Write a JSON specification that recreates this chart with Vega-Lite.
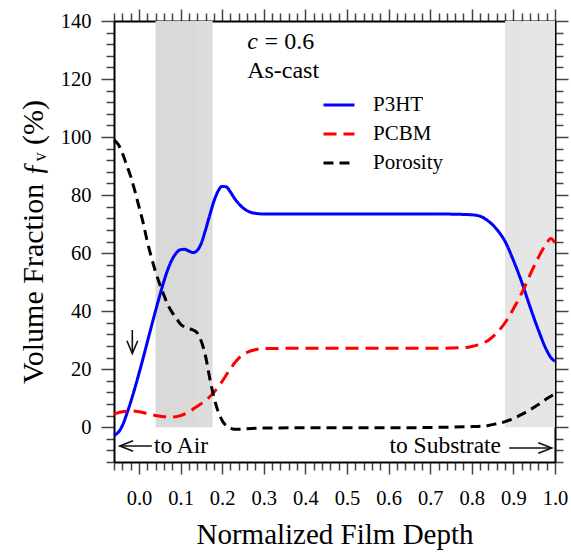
{
  "$schema": "https://vega.github.io/schema/vega-lite/v6.json",
  "width": 441,
  "height": 441,
  "autosize": "none",
  "padding": {"left": 114, "top": 21, "right": 16, "bottom": 91},
  "config": {
    "view": {"stroke": null},
    "font": "Liberation Serif",
    "text": {"font": "Liberation Serif"},
    "legend": {"labelFont": "Liberation Serif", "labelColor": "#000000"},
    "axis": {
      "domainColor": "#000000",
      "domainWidth": 2,
      "tickColor": "#444444",
      "tickWidth": 1.5,
      "grid": false,
      "labelFont": "Liberation Serif",
      "labelColor": "#000000",
      "labelFontSize": 20.5,
      "titleFont": "Liberation Serif",
      "titleFontWeight": "normal",
      "titleColor": "#000000",
      "titleFontSize": 29
    }
  },
  "datasets": {
    "series": [
      {"x": -0.06, "y": -2.8, "s": "P3HT"}, {"x": -0.05, "y": -1.8, "s": "P3HT"}, {"x": -0.04, "y": 0.5, "s": "P3HT"},
      {"x": -0.03, "y": 4.3, "s": "P3HT"}, {"x": -0.02, "y": 8.6, "s": "P3HT"}, {"x": -0.01, "y": 13.4, "s": "P3HT"},
      {"x": 0.0, "y": 18.5, "s": "P3HT"}, {"x": 0.01, "y": 23.8, "s": "P3HT"}, {"x": 0.02, "y": 29.3, "s": "P3HT"},
      {"x": 0.03, "y": 34.8, "s": "P3HT"}, {"x": 0.04, "y": 40.2, "s": "P3HT"}, {"x": 0.05, "y": 45.4, "s": "P3HT"},
      {"x": 0.06, "y": 50.3, "s": "P3HT"}, {"x": 0.07, "y": 54.6, "s": "P3HT"}, {"x": 0.08, "y": 57.9, "s": "P3HT"},
      {"x": 0.09, "y": 60.1, "s": "P3HT"}, {"x": 0.10, "y": 61.2, "s": "P3HT"}, {"x": 0.11, "y": 61.3, "s": "P3HT"},
      {"x": 0.12, "y": 60.7, "s": "P3HT"}, {"x": 0.13, "y": 60.2, "s": "P3HT"}, {"x": 0.14, "y": 60.9, "s": "P3HT"},
      {"x": 0.15, "y": 63.5, "s": "P3HT"}, {"x": 0.16, "y": 68.0, "s": "P3HT"}, {"x": 0.17, "y": 73.0, "s": "P3HT"},
      {"x": 0.18, "y": 77.8, "s": "P3HT"}, {"x": 0.19, "y": 81.3, "s": "P3HT"}, {"x": 0.20, "y": 83.0, "s": "P3HT"},
      {"x": 0.21, "y": 82.8, "s": "P3HT"}, {"x": 0.22, "y": 81.0, "s": "P3HT"}, {"x": 0.23, "y": 78.8, "s": "P3HT"},
      {"x": 0.24, "y": 77.0, "s": "P3HT"}, {"x": 0.25, "y": 75.6, "s": "P3HT"}, {"x": 0.26, "y": 74.6, "s": "P3HT"},
      {"x": 0.27, "y": 74.0, "s": "P3HT"}, {"x": 0.28, "y": 73.7, "s": "P3HT"}, {"x": 0.30, "y": 73.5, "s": "P3HT"},
      {"x": 0.40, "y": 73.5, "s": "P3HT"}, {"x": 0.50, "y": 73.5, "s": "P3HT"}, {"x": 0.60, "y": 73.5, "s": "P3HT"},
      {"x": 0.70, "y": 73.5, "s": "P3HT"}, {"x": 0.76, "y": 73.4, "s": "P3HT"}, {"x": 0.80, "y": 73.2, "s": "P3HT"},
      {"x": 0.82, "y": 72.7, "s": "P3HT"}, {"x": 0.84, "y": 71.0, "s": "P3HT"}, {"x": 0.86, "y": 68.2, "s": "P3HT"},
      {"x": 0.88, "y": 64.0, "s": "P3HT"}, {"x": 0.90, "y": 57.5, "s": "P3HT"}, {"x": 0.92, "y": 50.0, "s": "P3HT"},
      {"x": 0.94, "y": 41.5, "s": "P3HT"}, {"x": 0.96, "y": 33.5, "s": "P3HT"}, {"x": 0.98, "y": 26.5, "s": "P3HT"},
      {"x": 0.99, "y": 24.0, "s": "P3HT"}, {"x": 1.0, "y": 22.7, "s": "P3HT"},

      {"x": -0.06, "y": 4.5, "s": "PCBM"}, {"x": -0.04, "y": 5.3, "s": "PCBM"}, {"x": -0.02, "y": 5.6, "s": "PCBM"},
      {"x": 0.0, "y": 5.3, "s": "PCBM"}, {"x": 0.02, "y": 4.7, "s": "PCBM"}, {"x": 0.04, "y": 4.0, "s": "PCBM"},
      {"x": 0.06, "y": 3.6, "s": "PCBM"}, {"x": 0.08, "y": 3.5, "s": "PCBM"}, {"x": 0.10, "y": 4.0, "s": "PCBM"},
      {"x": 0.12, "y": 5.3, "s": "PCBM"}, {"x": 0.14, "y": 7.2, "s": "PCBM"}, {"x": 0.16, "y": 9.2, "s": "PCBM"},
      {"x": 0.18, "y": 12.0, "s": "PCBM"}, {"x": 0.20, "y": 15.8, "s": "PCBM"}, {"x": 0.22, "y": 20.2, "s": "PCBM"},
      {"x": 0.24, "y": 23.8, "s": "PCBM"}, {"x": 0.26, "y": 25.8, "s": "PCBM"}, {"x": 0.28, "y": 26.7, "s": "PCBM"},
      {"x": 0.30, "y": 27.1, "s": "PCBM"}, {"x": 0.40, "y": 27.2, "s": "PCBM"}, {"x": 0.50, "y": 27.2, "s": "PCBM"},
      {"x": 0.60, "y": 27.2, "s": "PCBM"}, {"x": 0.70, "y": 27.2, "s": "PCBM"}, {"x": 0.78, "y": 27.4, "s": "PCBM"},
      {"x": 0.80, "y": 27.8, "s": "PCBM"}, {"x": 0.82, "y": 28.6, "s": "PCBM"}, {"x": 0.84, "y": 30.0, "s": "PCBM"},
      {"x": 0.86, "y": 32.5, "s": "PCBM"}, {"x": 0.88, "y": 36.0, "s": "PCBM"}, {"x": 0.90, "y": 40.8, "s": "PCBM"},
      {"x": 0.92, "y": 46.2, "s": "PCBM"}, {"x": 0.94, "y": 52.5, "s": "PCBM"}, {"x": 0.96, "y": 58.5, "s": "PCBM"},
      {"x": 0.98, "y": 63.5, "s": "PCBM"}, {"x": 0.99, "y": 65.0, "s": "PCBM"}, {"x": 1.0, "y": 63.5, "s": "PCBM"},

      {"x": -0.06, "y": 99.0, "s": "Porosity"}, {"x": -0.05, "y": 97.5, "s": "Porosity"}, {"x": -0.04, "y": 94.5, "s": "Porosity"},
      {"x": -0.03, "y": 90.5, "s": "Porosity"}, {"x": -0.02, "y": 86.5, "s": "Porosity"}, {"x": -0.01, "y": 81.5, "s": "Porosity"},
      {"x": 0.0, "y": 76.0, "s": "Porosity"}, {"x": 0.01, "y": 70.5, "s": "Porosity"}, {"x": 0.02, "y": 64.0, "s": "Porosity"},
      {"x": 0.03, "y": 58.5, "s": "Porosity"}, {"x": 0.04, "y": 53.5, "s": "Porosity"}, {"x": 0.05, "y": 49.3, "s": "Porosity"},
      {"x": 0.06, "y": 45.5, "s": "Porosity"}, {"x": 0.07, "y": 42.0, "s": "Porosity"}, {"x": 0.08, "y": 39.5, "s": "Porosity"},
      {"x": 0.09, "y": 37.5, "s": "Porosity"}, {"x": 0.10, "y": 35.5, "s": "Porosity"}, {"x": 0.11, "y": 34.5, "s": "Porosity"},
      {"x": 0.12, "y": 34.0, "s": "Porosity"}, {"x": 0.13, "y": 33.5, "s": "Porosity"}, {"x": 0.14, "y": 32.5, "s": "Porosity"},
      {"x": 0.15, "y": 29.5, "s": "Porosity"}, {"x": 0.16, "y": 24.5, "s": "Porosity"}, {"x": 0.17, "y": 17.0, "s": "Porosity"},
      {"x": 0.18, "y": 10.5, "s": "Porosity"}, {"x": 0.19, "y": 5.5, "s": "Porosity"}, {"x": 0.20, "y": 2.3, "s": "Porosity"},
      {"x": 0.21, "y": 0.4, "s": "Porosity"}, {"x": 0.22, "y": -0.4, "s": "Porosity"}, {"x": 0.23, "y": -0.7, "s": "Porosity"},
      {"x": 0.24, "y": -0.7, "s": "Porosity"}, {"x": 0.26, "y": -0.5, "s": "Porosity"}, {"x": 0.30, "y": -0.3, "s": "Porosity"},
      {"x": 0.40, "y": -0.2, "s": "Porosity"}, {"x": 0.50, "y": -0.2, "s": "Porosity"}, {"x": 0.60, "y": -0.2, "s": "Porosity"},
      {"x": 0.70, "y": -0.1, "s": "Porosity"}, {"x": 0.80, "y": 0.2, "s": "Porosity"}, {"x": 0.84, "y": 0.6, "s": "Porosity"},
      {"x": 0.86, "y": 1.2, "s": "Porosity"}, {"x": 0.88, "y": 1.9, "s": "Porosity"}, {"x": 0.90, "y": 3.0, "s": "Porosity"},
      {"x": 0.92, "y": 4.4, "s": "Porosity"}, {"x": 0.94, "y": 6.0, "s": "Porosity"}, {"x": 0.96, "y": 7.8, "s": "Porosity"},
      {"x": 0.98, "y": 9.8, "s": "Porosity"}, {"x": 1.0, "y": 11.5, "s": "Porosity"}
    ],
    "shade": [
      {"x1": 0.04, "x2": 0.137, "z": "a"},
      {"x1": 0.137, "x2": 0.177, "z": "b"},
      {"x1": 0.88, "x2": 0.92, "z": "c"},
      {"x1": 0.92, "x2": 1.0, "z": "d"}
    ],
    "arrows": [
      {"g": "air_shaft", "o": 1, "x": -0.046, "y": -6.5},
      {"g": "air_shaft", "o": 2, "x": 0.031, "y": -6.5},
      {"g": "air_head", "o": 1, "x": -0.014, "y": -4.7},
      {"g": "air_head", "o": 2, "x": -0.046, "y": -6.5},
      {"g": "air_head", "o": 3, "x": -0.014, "y": -8.3},
      {"g": "sub_shaft", "o": 1, "x": 0.89, "y": -7.2},
      {"g": "sub_shaft", "o": 2, "x": 0.992, "y": -7.2},
      {"g": "sub_head", "o": 1, "x": 0.960, "y": -5.4},
      {"g": "sub_head", "o": 2, "x": 0.992, "y": -7.2},
      {"g": "sub_head", "o": 3, "x": 0.960, "y": -9.0},
      {"g": "down_shaft", "o": 1, "x": -0.016, "y": 33.5},
      {"g": "down_shaft", "o": 2, "x": -0.016, "y": 25.4},
      {"g": "down_head", "o": 1, "x": -0.029, "y": 29.8},
      {"g": "down_head", "o": 2, "x": -0.016, "y": 25.4},
      {"g": "down_head", "o": 3, "x": -0.003, "y": 29.8}
    ],
    "italic": [
      {"t": "c", "x": 0.26, "y": 130.2}
    ],
    "plain": [
      {"t": "= 0.6", "x": 0.302, "y": 130.2},
      {"t": "As-cast", "x": 0.26, "y": 120.2}
    ],
    "notes": [
      {"t": "to Air", "x": 0.036, "y": -6.5},
      {"t": "to Substrate", "x": 0.602, "y": -6.5}
    ]
  },
  "layer": [
    {
      "data": {"name": "shade"},
      "mark": {"type": "rect"},
      "encoding": {
        "x": {"field": "x1", "type": "quantitative", "scale": {"domain": [-0.06, 1.0], "nice": false, "zero": false}, "axis": null},
        "x2": {"field": "x2"},
        "y": {"datum": 0, "type": "quantitative", "scale": {"domain": [-12, 140], "nice": false, "zero": false}, "axis": null},
        "y2": {"datum": 140},
        "fill": {"field": "z", "type": "nominal", "scale": {"domain": ["a", "b", "c", "d"], "range": ["#d9d9d9", "#dcdcdc", "#e3e3e3", "#e6e6e6"]}, "legend": null}
      }
    },
    {
      "data": {"name": "series"},
      "mark": {"type": "line", "strokeWidth": 3, "interpolate": "monotone"},
      "encoding": {
        "x": {
          "field": "x", "type": "quantitative",
          "scale": {"domain": [-0.06, 1.0], "nice": false, "zero": false},
          "axis": {
            "orient": "bottom",
            "title": "Normalized Film Depth",
            "titlePadding": 12,
            "values": [-0.06,-0.04,-0.02,0,0.02,0.04,0.06,0.08,0.1,0.12,0.14,0.16,0.18,0.2,0.22,0.24,0.26,0.28,0.3,0.32,0.34,0.36,0.38,0.4,0.42,0.44,0.46,0.48,0.5,0.52,0.54,0.56,0.58,0.6,0.62,0.64,0.66,0.68,0.7,0.72,0.74,0.76,0.78,0.8,0.82,0.84,0.86,0.88,0.9,0.92,0.94,0.96,0.98,1],
            "labelExpr": "abs(datum.value*10 - round(datum.value*10)) < 0.001 ? format(datum.value, '.1f') : ''",
            "tickSize": {"condition": {"test": "abs(datum.value*10 - round(datum.value*10)) < 0.001", "value": 12}, "value": 8},
            "labelPadding": 14,
            "labelOverlap": false,
            "labelFlush": false
          }
        },
        "y": {
          "field": "y", "type": "quantitative",
          "scale": {"domain": [-12, 140], "nice": false, "zero": false},
          "axis": {
            "orient": "left",
            "title": "Volume Fraction ƒᵥ (%)",
            "titleFontSize": 30,
            "titlePadding": 12,
            "values": [-12,-8,-4,0,4,8,12,16,20,24,28,32,36,40,44,48,52,56,60,64,68,72,76,80,84,88,92,96,100,104,108,112,116,120,124,128,132,136,140],
            "labelExpr": "(datum.value % 20 === 0 && datum.value >= 0) ? datum.value : ''",
            "tickSize": {"condition": {"test": "datum.value % 20 === 0", "value": 13}, "value": 8},
            "labelPadding": 10,
            "labelOverlap": false,
            "labelFlush": false
          }
        },
        "color": {
          "field": "s", "type": "nominal",
          "scale": {"domain": ["P3HT", "PCBM", "Porosity"], "range": ["#0000ff", "#ff0000", "#000000"]},
          "legend": {"orient": "none", "legendX": 208, "legendY": 67, "title": null, "symbolType": "stroke", "symbolSize": 961, "symbolStrokeWidth": 3, "labelFontSize": 21, "labelFont": "Liberation Serif", "labelColor": "#000000", "labelOffset": 17, "rowPadding": 2, "padding": 0}
        },
        "strokeDash": {
          "field": "s", "type": "nominal",
          "scale": {"domain": ["P3HT", "PCBM", "Porosity"], "range": [[1, 0], [13, 7], [10, 6]]},
          "legend": {"orient": "none", "legendX": 208, "legendY": 67, "title": null, "symbolType": "stroke", "symbolSize": 961, "symbolStrokeWidth": 3, "labelFontSize": 21, "labelFont": "Liberation Serif", "labelColor": "#000000", "labelOffset": 17, "rowPadding": 2, "padding": 0}
        }
      }
    },
    {
      "data": {"name": "arrows"},
      "mark": {"type": "line", "stroke": "#111111", "strokeWidth": 1.6},
      "encoding": {
        "x": {"field": "x", "type": "quantitative", "scale": {"domain": [-0.06, 1.0], "nice": false, "zero": false}, "axis": null},
        "y": {"field": "y", "type": "quantitative", "scale": {"domain": [-12, 140], "nice": false, "zero": false}, "axis": null},
        "detail": {"field": "g", "type": "nominal"},
        "order": {"field": "o", "type": "quantitative"}
      }
    },
    {
      "data": {"name": "italic"},
      "mark": {"type": "text", "fontStyle": "italic", "fontSize": 24, "align": "left", "baseline": "alphabetic", "font": "Liberation Serif", "color": "#000000"},
      "encoding": {
        "x": {"field": "x", "type": "quantitative", "scale": {"domain": [-0.06, 1.0], "nice": false, "zero": false}, "axis": null},
        "y": {"field": "y", "type": "quantitative", "scale": {"domain": [-12, 140], "nice": false, "zero": false}, "axis": null},
        "text": {"field": "t"}
      }
    },
    {
      "data": {"name": "notes"},
      "mark": {"type": "text", "fontSize": 23.5, "align": "left", "baseline": "middle", "font": "Liberation Serif", "color": "#000000"},
      "encoding": {
        "x": {"field": "x", "type": "quantitative", "scale": {"domain": [-0.06, 1.0], "nice": false, "zero": false}, "axis": null},
        "y": {"field": "y", "type": "quantitative", "scale": {"domain": [-12, 140], "nice": false, "zero": false}, "axis": null},
        "text": {"field": "t"}
      }
    },
    {
      "data": {"name": "plain"},
      "mark": {"type": "text", "fontSize": 24, "align": "left", "baseline": "alphabetic", "font": "Liberation Serif", "color": "#000000"},
      "encoding": {
        "x": {
          "field": "x", "type": "quantitative",
          "scale": {"domain": [-0.06, 1.0], "nice": false, "zero": false},
          "axis": {
            "orient": "top",
            "title": null,
            "labels": false,
            "values": [-0.06,-0.04,-0.02,0,0.02,0.04,0.06,0.08,0.1,0.12,0.14,0.16,0.18,0.2,0.22,0.24,0.26,0.28,0.3,0.32,0.34,0.36,0.38,0.4,0.42,0.44,0.46,0.48,0.5,0.52,0.54,0.56,0.58,0.6,0.62,0.64,0.66,0.68,0.7,0.72,0.74,0.76,0.78,0.8,0.82,0.84,0.86,0.88,0.9,0.92,0.94,0.96,0.98,1],
            "tickSize": {"condition": {"test": "abs(datum.value*10 - round(datum.value*10)) < 0.001", "value": 12}, "value": 8}
          }
        },
        "y": {
          "field": "y", "type": "quantitative",
          "scale": {"domain": [-12, 140], "nice": false, "zero": false},
          "axis": {
            "orient": "right",
            "title": null,
            "labels": false,
            "values": [-12,-8,-4,0,4,8,12,16,20,24,28,32,36,40,44,48,52,56,60,64,68,72,76,80,84,88,92,96,100,104,108,112,116,120,124,128,132,136,140],
            "tickSize": {"condition": {"test": "datum.value % 20 === 0", "value": 13}, "value": 8}
          }
        },
        "text": {"field": "t"}
      }
    }
  ],
  "resolve": {"axis": {"x": "independent", "y": "independent"}}
}
